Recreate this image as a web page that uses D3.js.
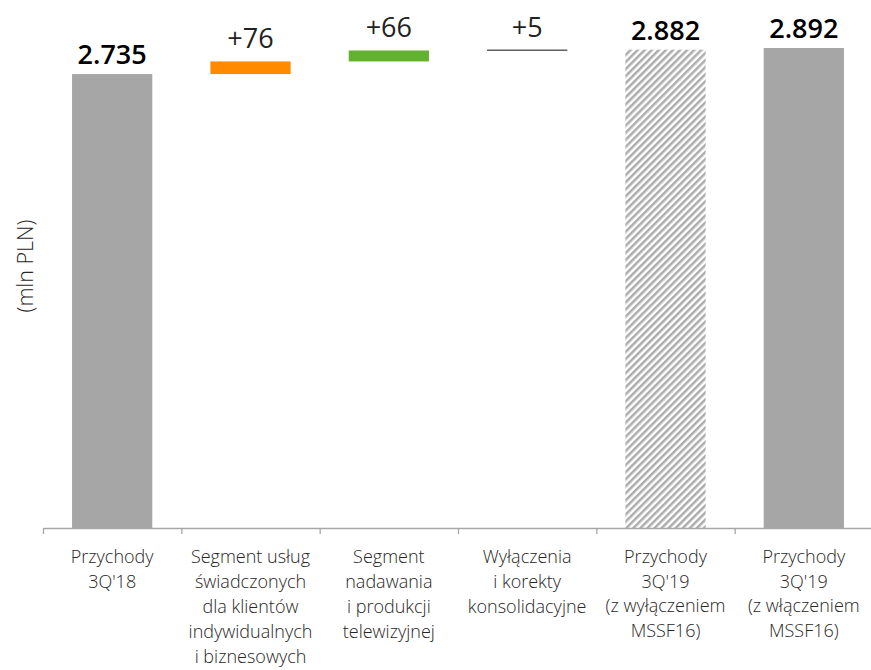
<!DOCTYPE html>
<html lang="pl">
<head>
    <meta charset="UTF-8">
    <title>Przychody 3Q'18 - 3Q'19</title>
    <style>
        body { margin: 0; background: #fff; }
        svg { display: block; font-family: "Open Sans", "Noto Sans", sans-serif; }
    </style>
</head>
<body>
    <div id="chart"></div>

    <script src="https://d3js.org/d3.v7.min.js"></script>
    <script>
        // data
        const categories = ["c1", "c2", "c3", "c4", "c5", "c6"];
        const labelLines = [
            ["Przychody", "3Q'18"],
            ["Segment usług", "świadczonych", "dla klientów", "indywidualnych", "i biznesowych"],
            ["Segment", "nadawania", "i produkcji", "telewizyjnej"],
            ["Wyłączenia", "i korekty", "konsolidacyjne"],
            ["Przychody", "3Q'19", "(z wyłączeniem", "MSSF16)"],
            ["Przychody", "3Q'19", "(z włączeniem", "MSSF16)"]
        ];
        const barKind = ["total", "delta", "delta", "delta", "hatched", "total"];
        const values = [2735, 76, 66, 5, 2882, 2892];
        const yTitle = "(mln PLN)";

        const colors = { total: "#a6a6a6", c2: "#ff8a00", c3: "#63b22f", c4: "#111111" };

        const W = 871, H = 670;
        const svg = d3.select("#chart").append("svg").attr("width", W).attr("height", H);

        const fmt = d3.formatLocale({ decimal: ",", thousands: ".", grouping: [3], currency: ["", " zł"] });
        const fmtTotal = fmt.format(",d");
        const fmtDelta = fmt.format("+d");

        // running base for the waterfall
        let running = 0;
        const bars = values.map(function(v, i) {
            let lo, hi;
            if (barKind[i] === "delta") {
                lo = running; hi = running + v; running = hi;
            } else {
                lo = 0; hi = v; running = v;
            }
            return { cat: categories[i], kind: barKind[i], value: v, lo: lo, hi: hi, lines: labelLines[i] };
        });

        const x = d3.scaleBand().domain(categories).range([43, 873]).paddingInner(0.42).paddingOuter(0.21);
        const xEdge = d3.scaleLinear().domain([0, categories.length]).range([43, 873]);
        const y = d3.scaleLinear().domain([0, d3.max(values)]).range([528, 48]);

        // hatch pattern
        const defs = svg.append("defs");
        const pat = defs.append("pattern")
            .attr("id", "hatch")
            .attr("patternUnits", "userSpaceOnUse")
            .attr("width", 5).attr("height", 5)
            .attr("patternTransform", "rotate(45)");
        pat.append("rect").attr("width", 5).attr("height", 5).attr("fill", "#fff");
        pat.append("rect").attr("width", 2.5).attr("height", 5).attr("fill", "#acacac");

        // bars
        svg.append("g").selectAll("rect")
            .data(bars)
            .enter().append("rect")
            .attr("x", d => x(d.cat))
            .attr("width", x.bandwidth())
            .attr("y", d => y(d.hi))
            .attr("height", d => Math.max(1, y(d.lo) - y(d.hi)))
            .attr("fill", d => d.kind === "hatched" ? "url(#hatch)" : d.kind === "total" ? colors.total : colors[d.cat]);

        // value labels
        svg.append("g").selectAll("text")
            .data(bars)
            .enter().append("text")
            .attr("x", d => x(d.cat) + x.bandwidth() / 2)
            .attr("y", d => y(d.hi) - (d.kind === "delta" ? 13 : 10))
            .attr("text-anchor", "middle")
            .attr("font-size", 27)
            .attr("font-weight", d => d.kind === "delta" ? 400 : 600)
            .attr("fill", d => d.kind === "delta" ? "#222" : "#000")
            .text(d => d.kind === "delta" ? fmtDelta(d.value) : fmtTotal(d.value));

        // x axis with ticks between categories
        const axis = svg.append("g")
            .attr("transform", "translate(0,528)")
            .call(d3.axisBottom(xEdge).ticks(categories.length).tickSize(6).tickSizeOuter(0).tickFormat(""));
        axis.selectAll("path, line").attr("stroke", "#a6a6a6").attr("stroke-width", 1.3);

        // category labels
        const lineGap = function(ci, li) {
            // last two columns: the bracket part sits a bit tighter
            if (ci >= 4 && li >= 2) return li * 24.5;
            return li * 25;
        };
        const lab = svg.append("g").selectAll("text")
            .data(bars)
            .enter().append("text")
            .attr("text-anchor", "middle")
            .attr("font-size", 18)
            .attr("font-weight", 300)
            .attr("fill", "#262626");
        lab.each(function(d, ci) {
            const t = d3.select(this);
            d.lines.forEach(function(s, li) {
                t.append("tspan")
                    .attr("x", x(d.cat) + x.bandwidth() / 2)
                    .attr("y", 563 + lineGap(ci, li))
                    .text(s);
            });
        });

        // y title
        svg.append("text")
            .attr("transform", "translate(33,266) rotate(-90)")
            .attr("text-anchor", "middle")
            .attr("font-size", 21.5)
            .attr("font-weight", 300)
            .attr("fill", "#262626")
            .text(yTitle);
    </script>
</body>
</html>
